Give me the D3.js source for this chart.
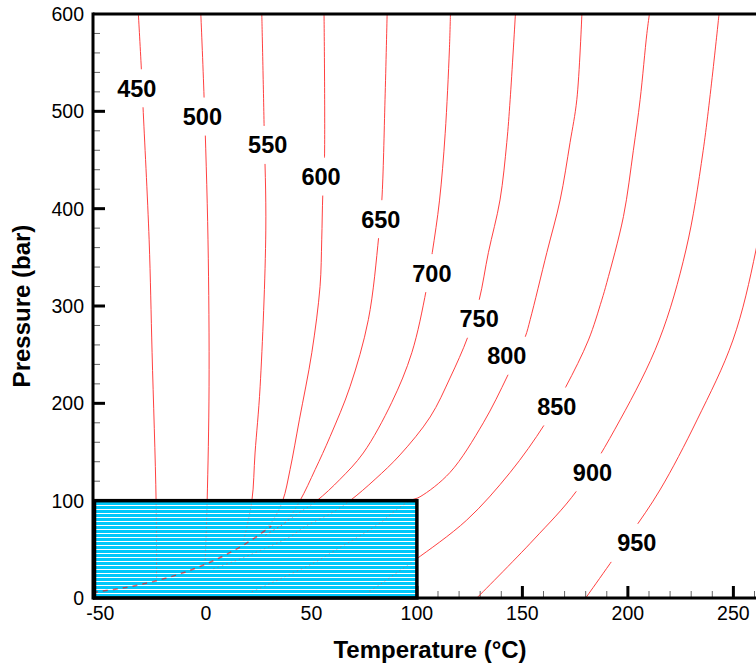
<!DOCTYPE html>
<html lang="en">

<head>
    <meta charset="utf-8" />
    <title>Pressure - Temperature contours</title>
    <script src="https://cdn.jsdelivr.net/npm/d3@7"></script>
    <style>
        body { margin: 0; background: #fff; }
        text { font-family: 'Liberation Sans', Arial, Helvetica, sans-serif; }
    </style>
</head>

<body>
    <div id='chart'></div>
</body>
<script>

    // contour levels and their (temperature, pressure) traces
    let levels = [450, 500, 550, 600, 650, 700, 750, 800, 850, 900, 950];

    let c450 = [[-32, 600], [-30.5, 540], [-29.8, 505], [-26.9, 368], [-25.5, 252], [-23.6, 100], [-23.4, 19]];
    let c500 = [[-2.4, 600], [-0.85, 514], [1.0, 368], [1.5, 217], [0.6, 100], [-0.4, 34]];
    let c550 = [[26.5, 600], [27.6, 484], [28.4, 378], [25.7, 217], [23.3, 149], [21.8, 100], [17.5, 55]];
    let c600 = [[56.0, 600], [56.2, 450], [55.4, 414], [54.9, 368], [54.1, 320], [50.2, 252], [44.3, 183],
        [39.9, 132], [36.4, 100], [31.2, 78], [26.5, 67], [22.5, 59]];
    let c650 = [[85.9, 600], [84.9, 512], [83.4, 409], [81.9, 371], [77.0, 286], [68.3, 217], [58.9, 166],
        [51.8, 132], [44.6, 100], [37.9, 78], [32.3, 70], [27, 63]];
    let c700 = [[115.9, 600], [115.4, 563], [113.4, 477], [110.7, 408], [107.3, 355], [104.4, 316], [97.6, 252],
        [88.1, 201], [74.6, 149], [63.6, 122], [52.6, 100], [43.8, 87], [35.2, 74], [27, 63]];
    let c750 = [[146.7, 600], [144.2, 512], [142.6, 468], [139.4, 409], [133.9, 355], [129.5, 306], [124.1, 268],
        [115.7, 226], [106.3, 186], [92.0, 147], [80.2, 122], [68.3, 100], [59.3, 87], [47.5, 74], [39.9, 63],
        [32.3, 55], [23.8, 47], [13.8, 38], [3.4, 30]];
    let c800 = [[178.2, 600], [175.8, 512], [172.6, 468], [167.9, 409], [161.6, 355], [153.7, 286], [151.3, 268],
        [142.9, 228], [131.5, 180], [115.7, 129], [101.5, 104], [96.8, 100], [90.5, 91], [83.1, 78], [72.3, 63],
        [62.8, 51], [52.8, 38], [41.5, 26], [29.6, 14], [20.9, 5.5]];
    let c850 = [[210.2, 600], [209, 580], [205.8, 512], [202.6, 460], [197.9, 392], [190, 324], [187.6, 306],
        [181.3, 265], [170.6, 217], [160.4, 178], [144.2, 129], [123.6, 80], [99.1, 39], [90.5, 26], [82.6, 14],
        [76.3, 5.5]];
    let c900 = [[243.2, 600], [235.7, 460], [227.5, 357.5], [214.8, 265], [196.3, 183], [175.7, 110],
        [155.2, 59.6], [128.4, 0]];
    let c950 = [[274.5, 600], [268.3, 460], [260.7, 357.5], [249.8, 265], [232.8, 183], [215.2, 111],
        [201.0, 64.7], [180, 0]];

    let contourData = [c450, c500, c550, c600, c650, c700, c750, c800, c850, c900, c950];

    // label centres (temperature, pressure)
    let labelT = [-32.75, -1.66, 29.3, 54.6, 82.9, 107.1, 129.5, 142.6, 166.3, 183.2, 204.2];
    let labelP = [523.7, 494.6, 465.5, 433, 389.2, 333.8, 286.9, 248.9, 196.8, 129.1, 56.6];

    // saturation line seen inside the hatched box
    let satT = [-53.5, -50, -40, -30, -20, -10, 0, 10, 20, 31];
    let satP = [5.5, 6.8, 10, 14.3, 19.7, 26.5, 34.9, 45, 57.3, 73.8];

    // hatched region
    let boxTmax = 100, boxPmax = 100;

    let xMin = -53.5, xMax = 270;
    let xMajor = [-50, 0, 50, 100, 150, 200, 250];
    let yMajor = [0, 100, 200, 300, 400, 500, 600];

    let width = 756, height = 666;
    let plotLeft = 93, plotTop = 14, plotBottom = 598;

    let svg = d3.select('#chart')
        .append('svg')
        .attr('width', width)
        .attr('height', height);

    let x = d3.scaleLinear()
        .domain([xMin, xMax])
        .range([plotLeft, plotLeft + (xMax - xMin) * 2.11]);

    let y = d3.scaleLinear()
        .domain([0, 600])
        .range([plotBottom, plotTop]);

    let defs = svg.append('defs');

    defs.append('clipPath').attr('id', 'plot-clip')
        .append('rect')
        .attr('x', plotLeft).attr('y', plotTop)
        .attr('width', width - plotLeft + 40).attr('height', plotBottom - plotTop);

    defs.append('clipPath').attr('id', 'box-clip')
        .append('rect')
        .attr('x', x(xMin)).attr('y', y(boxPmax))
        .attr('width', x(boxTmax) - x(xMin)).attr('height', y(0) - y(boxPmax));

    // label gaps in the contour lines
    let mask = defs.append('mask').attr('id', 'label-mask')
        .attr('maskUnits', 'userSpaceOnUse')
        .attr('x', 0).attr('y', 0).attr('width', width).attr('height', height);
    mask.append('rect').attr('width', width).attr('height', height).attr('fill', 'white');
    mask.selectAll('.gap')
        .data(levels)
        .enter().append('rect')
        .attr('x', (d, i) => x(labelT[i]) - 27)
        .attr('y', (d, i) => y(labelP[i]) - 19)
        .attr('width', 54)
        .attr('height', 38)
        .attr('fill', 'black');

    let line = d3.line()
        .x(d => x(d[0]))
        .y(d => y(d[1]))
        .curve(d3.curveCatmullRom.alpha(0.5));

    // ticks (under the box)
    let gTicks = svg.append('g');
    let xMinor = d3.range(-50, 271, 10).filter(v => v % 50 != 0);
    let yMinor = d3.range(0, 601, 20).filter(v => v % 100 != 0);

    gTicks.selectAll('.xminor').data(xMinor).enter().append('line')
        .attr('x1', d => x(d)).attr('x2', d => x(d))
        .attr('y1', plotBottom).attr('y2', plotBottom - 7)
        .attr('stroke', '#666').attr('stroke-width', 1);
    gTicks.selectAll('.yminor').data(yMinor).enter().append('line')
        .attr('x1', plotLeft).attr('x2', plotLeft + 7)
        .attr('y1', d => y(d)).attr('y2', d => y(d))
        .attr('stroke', '#666').attr('stroke-width', 1);
    gTicks.selectAll('.xmajor').data(xMajor).enter().append('line')
        .attr('x1', d => x(d)).attr('x2', d => x(d))
        .attr('y1', plotBottom).attr('y2', plotBottom - 12)
        .attr('stroke', '#000').attr('stroke-width', 3);
    gTicks.selectAll('.ymajor').data(yMajor.filter(d => d > 0 && d < 600)).enter().append('line')
        .attr('x1', plotLeft).attr('x2', plotLeft + 12)
        .attr('y1', d => y(d)).attr('y2', d => y(d))
        .attr('stroke', '#000').attr('stroke-width', 3);

    // contour lines
    svg.append('g')
        .attr('clip-path', 'url(#plot-clip)')
        .append('g')
        .attr('mask', 'url(#label-mask)')
        .selectAll('.contour')
        .data(contourData)
        .enter().append('path')
        .attr('class', 'contour')
        .attr('d', line)
        .attr('fill', 'none')
        .attr('stroke', '#ff2a2a')
        .attr('stroke-width', 0.9);

    // hatched box: cyan fill with thin white lines
    let bx0 = Math.round(x(xMin)), bx1 = Math.round(x(boxTmax));
    let by0 = Math.round(y(boxPmax)), by1 = Math.round(y(0));
    let gBox = svg.append('g').attr('shape-rendering', 'crispEdges');
    gBox.append('rect')
        .attr('x', bx0).attr('y', by0)
        .attr('width', bx1 - bx0).attr('height', by1 - by0)
        .attr('fill', '#00c8fa');
    gBox.selectAll('.stripe')
        .data(d3.range(by0 + 4, by1, 4))
        .enter().append('rect')
        .attr('x', bx0).attr('y', d => d)
        .attr('width', bx1 - bx0).attr('height', 1)
        .attr('fill', '#ffffff');

    let gIn = svg.append('g').attr('clip-path', 'url(#box-clip)');
    gIn.selectAll('.contour-in')
        .data(contourData)
        .enter().append('path')
        .attr('d', line)
        .attr('fill', 'none')
        .attr('stroke', '#ff3030')
        .attr('stroke-opacity', 0.4)
        .attr('stroke-width', 1)
        .attr('stroke-dasharray', '1.5,3');
    gIn.append('path')
        .datum(satT.map((t, i) => [t, satP[i]]))
        .attr('d', line)
        .attr('fill', 'none')
        .attr('stroke', '#ff0000')
        .attr('stroke-opacity', 0.6)
        .attr('stroke-width', 1.5)
        .attr('stroke-dasharray', '5,5');

    svg.append('rect')
        .attr('x', x(xMin) + 1.5)
        .attr('y', y(boxPmax))
        .attr('width', x(boxTmax) - x(xMin) - 1.5)
        .attr('height', y(0) - y(boxPmax))
        .attr('fill', 'none')
        .attr('stroke', '#000')
        .attr('stroke-width', 3.5);

    // frame lines
    svg.append('line')
        .attr('x1', plotLeft).attr('x2', plotLeft)
        .attr('y1', plotTop - 1.5).attr('y2', plotBottom + 1.5)
        .attr('stroke', '#000').attr('stroke-width', 3);
    svg.append('line')
        .attr('x1', plotLeft).attr('x2', width)
        .attr('y1', plotTop).attr('y2', plotTop)
        .attr('stroke', '#000').attr('stroke-width', 3);
    svg.append('line')
        .attr('x1', plotLeft).attr('x2', width)
        .attr('y1', plotBottom).attr('y2', plotBottom)
        .attr('stroke', '#000').attr('stroke-width', 3);

    // tick labels
    svg.selectAll('.xlabel').data(xMajor).enter().append('text')
        .attr('x', d => x(d))
        .attr('y', plotBottom + 22)
        .attr('text-anchor', 'middle')
        .style('font-size', '19.5px')
        .text(d => d);

    svg.selectAll('.ylabel').data(yMajor).enter().append('text')
        .attr('x', plotLeft - 9)
        .attr('y', d => y(d) + 7)
        .attr('text-anchor', 'end')
        .style('font-size', '19.5px')
        .text(d => d);

    // axis titles
    svg.append('text')
        .attr('x', 430)
        .attr('y', 658)
        .attr('text-anchor', 'middle')
        .style('font-size', '24px')
        .style('font-weight', 'bold')
        .text('Temperature (\u00B0C)');

    svg.append('text')
        .attr('transform', 'translate(30,' + 306 + ') rotate(-90)')
        .attr('text-anchor', 'middle')
        .style('font-size', '24px')
        .style('font-weight', 'bold')
        .text('Pressure (bar)');

    // contour labels
    svg.selectAll('.clabel').data(levels).enter().append('text')
        .attr('x', (d, i) => x(labelT[i]))
        .attr('y', (d, i) => y(labelP[i]) + 8.5)
        .attr('text-anchor', 'middle')
        .style('font-size', '23.5px')
        .style('font-weight', 'bold')
        .text(d => d);

</script>

</html>
